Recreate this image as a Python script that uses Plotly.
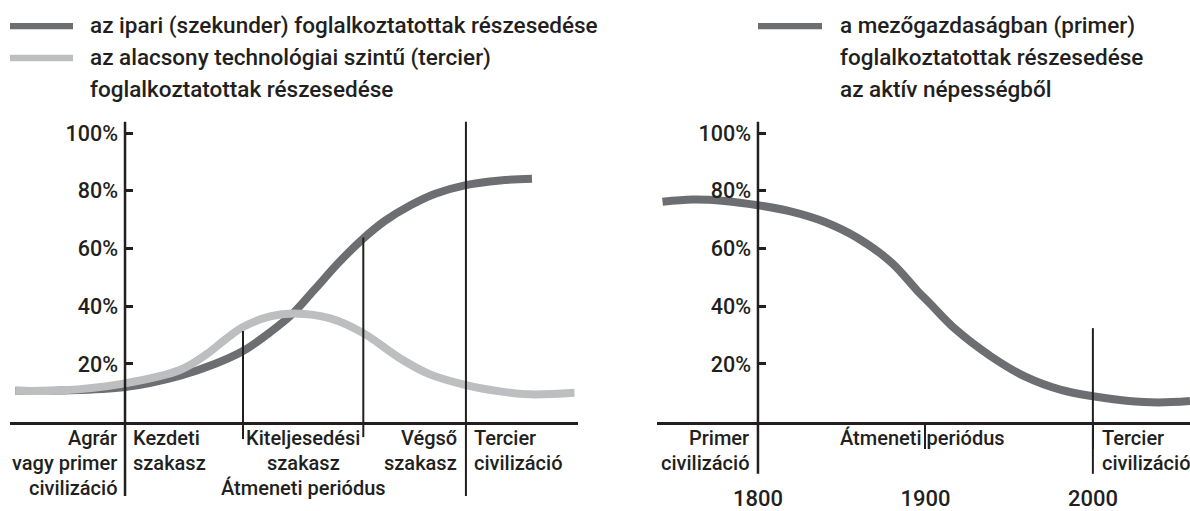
import plotly.graph_objects as go

# ---------------- data ----------------
# Left panel: abstract stage axis (0 = start of transition), values in %
left_x_ipari = [-9.3, -5.5, 0, 4.7, 7.6, 10, 12.3, 14.1, 16, 18.2, 20.2, 22.0, 24.2, 26.3, 28.9, 31.8, 34.5]
left_ipari = [10.7, 10.8, 12.0, 16.0, 20.0, 24.5, 31.0, 37.0, 45.5, 55.5, 63.5, 69.5, 75.0, 79.0, 82.0, 83.6, 84.2]
left_x_tercier = [-9.3, -5.5, 0, 4.7, 6.95, 8.5, 10, 12.3, 14.4, 17.4, 20.2, 23.3, 25.8, 28.9, 31.8, 34.3, 38.1]
left_tercier = [10.7, 10.8, 13.3, 18.0, 23.5, 28.5, 32.8, 36.5, 37.5, 35.8, 30.7, 22.0, 16.5, 12.7, 10.5, 9.5, 10.0]
left_bounds = [0, 10, 20.2, 28.9]

# Right panel: years, agricultural share in %
right_years = [1743, 1761, 1780, 1800, 1820, 1840, 1860, 1880, 1895, 1903, 1918, 1939, 1960, 1981, 2000, 2020, 2039, 2058]
right_primer = [76.2, 77, 76.5, 75, 72.8, 69.2, 63.5, 55, 45.5, 40.8, 32.0, 22.7, 15.5, 11, 8.8, 7.3, 6.7, 7.2]
right_ticks = [1800, 1900, 2000]

y_ticks = [20, 40, 60, 80, 100]
y_ticktext = ["20%", "40%", "60%", "80%", "100%"]

legend_left = [
    ("az ipari (szekunder) foglalkoztatottak részesedése", "dark"),
    ("az alacsony technológiai szintű (tercier)", "light"),
    ("foglalkoztatottak részesedése", None),
]
legend_right = [
    ("a mezőgazdaságban (primer)", "dark"),
    ("foglalkoztatottak részesedése", None),
    ("az aktív népességből", None),
]

# ---------------- style ----------------
DARK = "#6d6e71"
LIGHT = "#bcbec0"
INK = "#231f20"
FONT = "Roboto"
WEIGHT = 500
W, H = 1190, 511

def py(pix):  # pixel row -> paper fraction
    return (H - pix) / H

def px(pix):
    return pix / W

y_dom = [py(434), py(125)]
y_range = [0, 103.3]

fig = go.Figure()
fig.add_trace(go.Scatter(x=left_x_ipari, y=left_ipari, mode="lines",
                         line=dict(color=DARK, width=8, shape="spline", smoothing=1.0),
                         xaxis="x", yaxis="y", hoverinfo="skip"))
fig.add_trace(go.Scatter(x=left_x_tercier, y=left_tercier, mode="lines",
                         line=dict(color=LIGHT, width=8, shape="spline", smoothing=1.0),
                         xaxis="x", yaxis="y", hoverinfo="skip"))
fig.add_trace(go.Scatter(x=right_years, y=right_primer, mode="lines",
                         line=dict(color=DARK, width=8, shape="spline", smoothing=1.0),
                         xaxis="x2", yaxis="y2", hoverinfo="skip"))

shapes = []
def vline(xref, x, y0, y1, w=2):
    shapes.append(dict(type="line", xref=xref, yref="paper", x0=x, x1=x,
                       y0=y0, y1=y1, line=dict(color=INK, width=w)))

# left panel separators
vline("x", left_bounds[0], 0, py(123), 2.5)
vline("x", left_bounds[1], py(452), py(340))
vline("x", left_bounds[2], py(450), py(243))
vline("x", left_bounds[3], 0, py(123))
# right panel separators
vline("x2", right_ticks[0], py(488), py(123), 2.5)
vline("x2", right_ticks[2], py(488), py(337))

# legend swatches
for i, (_, kind) in enumerate(legend_left):
    if kind:
        yc = [24, 57, 90][i]
        shapes.append(dict(type="rect", xref="paper", yref="paper",
                           x0=px(10), x1=px(73), y0=py(yc + 3.3), y1=py(yc - 3.3),
                           fillcolor=DARK if kind == "dark" else LIGHT, line=dict(width=0)))
for i, (_, kind) in enumerate(legend_right):
    if kind:
        yc = [24, 57, 90][i]
        shapes.append(dict(type="rect", xref="paper", yref="paper",
                           x0=px(758), x1=px(822), y0=py(yc + 3.3), y1=py(yc - 3.3),
                           fillcolor=DARK, line=dict(width=0)))

ann = []
def text(t, xref, x, ypix, anchor, size=20, xshift=0):
    ann.append(dict(text=t, xref=xref, yref="paper", x=x, y=py(ypix),
                    xanchor=anchor, yanchor="middle", showarrow=False, xshift=xshift,
                    font=dict(family=FONT, size=size, color=INK, weight=WEIGHT)))

for i, (t, _) in enumerate(legend_left):
    text(t, "paper", px(88), [23, 56, 89][i], "left", 22.5)
for i, (t, _) in enumerate(legend_right):
    text(t, "paper", px(838), [23, 56, 89][i], "left", 22.5)

L1, L2, L3 = 451, 477, 503
# left stage labels
text("Agrár", "x", left_bounds[0], L1, "right", xshift=-6)
text("vagy primer", "x", left_bounds[0], L2, "right", xshift=-6)
text("civilizáció", "x", left_bounds[0], L3, "right", xshift=-6)
text("Kezdeti", "x", left_bounds[0], L1, "left", xshift=6)
text("szakasz", "x", left_bounds[0], L2, "left", xshift=6)
mid = (left_bounds[1] + left_bounds[2]) / 2
text("Kiteljesedési", "x", mid, L1, "center")
text("szakasz", "x", mid, L2, "center")
text("Átmeneti periódus", "x", mid, L3, "center")
text("Végső", "x", left_bounds[3], L1, "right", xshift=-7)
text("szakasz", "x", left_bounds[3], L2, "right", xshift=-7)
text("Tercier", "x", left_bounds[3], L1, "left", xshift=6)
text("civilizáció", "x", left_bounds[3], L2, "left", xshift=6)
# right stage labels
text("Primer", "x2", right_ticks[0], L1, "right", xshift=-7)
text("civilizáció", "x2", right_ticks[0], L2, "right", xshift=-7)
text("Átmeneti periódus", "x2", right_ticks[1] - 2, L1, "center")
text("Tercier", "x2", right_ticks[2], L1, "left", xshift=7)
text("civilizáció", "x2", right_ticks[2], L2, "left", xshift=7)

yaxis_common = dict(domain=y_dom, range=y_range, tickvals=y_ticks, ticktext=y_ticktext,
                    ticks="inside", ticklen=7, tickwidth=2.5, tickcolor=INK,
                    showline=False, showgrid=False, zeroline=False, anchor="free",
                    tickfont=dict(family=FONT, size=21.5, color=INK, weight=WEIGHT),
                    ticklabelstandoff=7)

fig.update_layout(
    width=W, height=H, margin=dict(l=0, r=0, t=0, b=0), autosize=False,
    paper_bgcolor="white", plot_bgcolor="white", showlegend=False,
    xaxis=dict(domain=[px(10), px(578)], range=[-9.75, 38.4], anchor="y",
               showline=True, linewidth=2.5, linecolor=INK, showgrid=False,
               zeroline=False, ticks="", showticklabels=False),
    yaxis=dict(position=px(125), **yaxis_common),
    xaxis2=dict(domain=[px(657), 1.0], range=[1739.7, 2058], anchor="y2",
                showline=True, linewidth=2.5, linecolor=INK, showgrid=False,
                zeroline=False, tickvals=right_ticks, ticks="outside", ticklen=25,
                tickwidth=2, tickcolor=INK, ticklabelstandoff=30,
                tickfont=dict(family=FONT, size=22, color=INK, weight=WEIGHT)),
    yaxis2=dict(position=px(758), **yaxis_common),
    shapes=shapes, annotations=ann,
)

post = """
document.documentElement.style.cssText='margin:0;padding:0;overflow:hidden;';
document.body.style.cssText='margin:0;padding:0;overflow:hidden;';
var gd=document.getElementById('{plot_id}');
gd.style.position='fixed';gd.style.top='0px';gd.style.left='0px';
"""
fig.write_html("out.html",
               config={"responsive": False, "displayModeBar": False},
               post_script=post)
